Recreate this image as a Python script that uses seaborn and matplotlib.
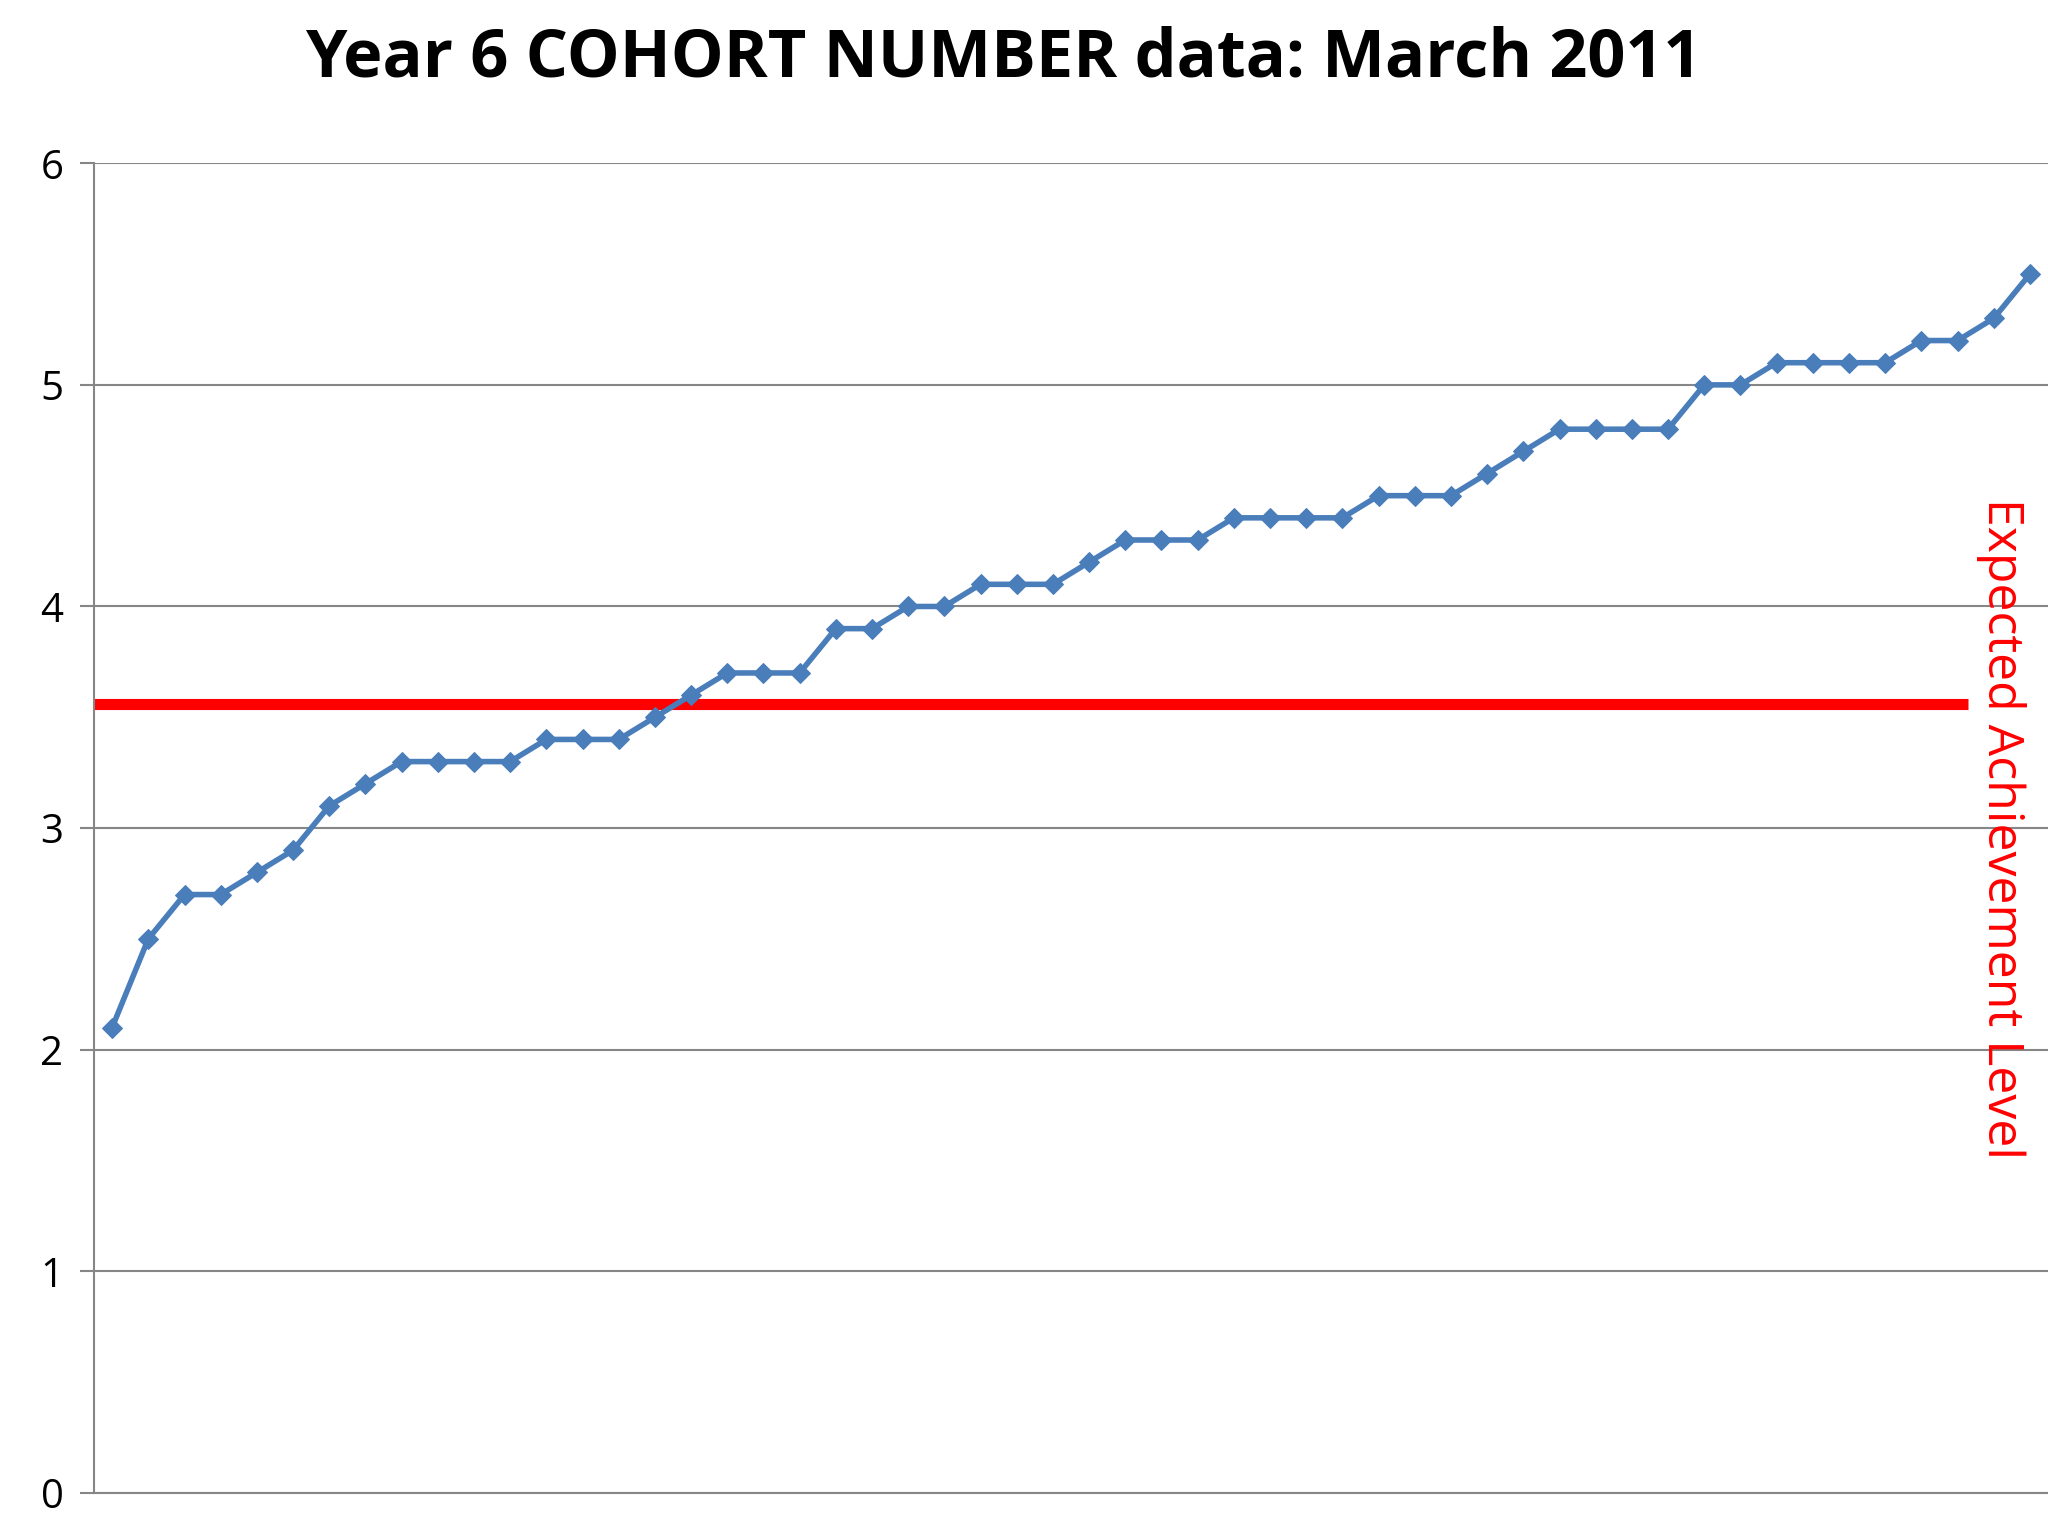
import numpy as np
import pandas as pd
import matplotlib
matplotlib.use("Agg")
import matplotlib.pyplot as plt
import seaborn as sns

# pupil scores, sorted ascending
scores = [2.1, 2.5, 2.7, 2.7, 2.8, 2.9, 3.1, 3.2,
          3.3, 3.3, 3.3, 3.3, 3.4, 3.4, 3.4, 3.5, 3.6,
          3.7, 3.7, 3.7, 3.9, 3.9, 4.0, 4.0, 4.1, 4.1, 4.1, 4.2,
          4.3, 4.3, 4.3, 4.4, 4.4, 4.4, 4.4, 4.5, 4.5, 4.5, 4.6, 4.7,
          4.8, 4.8, 4.8, 4.8, 5.0, 5.0, 5.1, 5.1, 5.1, 5.1, 5.2, 5.2, 5.3, 5.5]
expected_level = 3.56
expected_label = "Expected Achievement Level"
title = "Year 6 COHORT NUMBER data: March 2011"

df = pd.DataFrame({"pupil": np.arange(1, len(scores) + 1), "score": scores})

sns.set_style("white")
plt.rcParams["font.family"] = ["Open Sans", "DejaVu Sans"]

fig = plt.figure(figsize=(20.48, 15.36), dpi=100)
ax = fig.add_axes([72 / 1568, 1 - 1143 / 1176, 1 - 72 / 1568, (1143 - 125) / 1176])

sns.lineplot(data=df, x="pupil", y="score", ax=ax, color="#4a7ebb", linewidth=4,
             marker="D", markersize=10, markeredgecolor="#4a7ebb")
ax.hlines(expected_level, 0.5, 52.3, color="#ff0000", linewidth=8, zorder=1)

ax.set_xlim(0.5, 54.5)
ax.set_ylim(0, 6)
ax.set_yticks(range(0, 7))
ax.set_xticks([])
ax.set_xlabel("")
ax.set_ylabel("")
ax.grid(axis="y", color="#868686", linewidth=1.5)
ax.tick_params(axis="y", labelsize=29, labelcolor="black", length=10, width=1.5,
               color="#868686", left=True, pad=12)
for s in ["top", "right"]:
    ax.spines[s].set_visible(False)
for s in ["left", "bottom"]:
    ax.spines[s].set_color("#868686")
    ax.spines[s].set_linewidth(1.5)

ax.text(53.2, 3.0, expected_label, rotation=-90, color="#ff0000", fontsize=36,
        ha="center", va="center")
fig.text(768 / 1568, 1 - 45 / 1176, title, ha="center", va="center",
         fontsize=48, fontweight="bold", color="black")

fig.savefig("out.png", dpi=100)
